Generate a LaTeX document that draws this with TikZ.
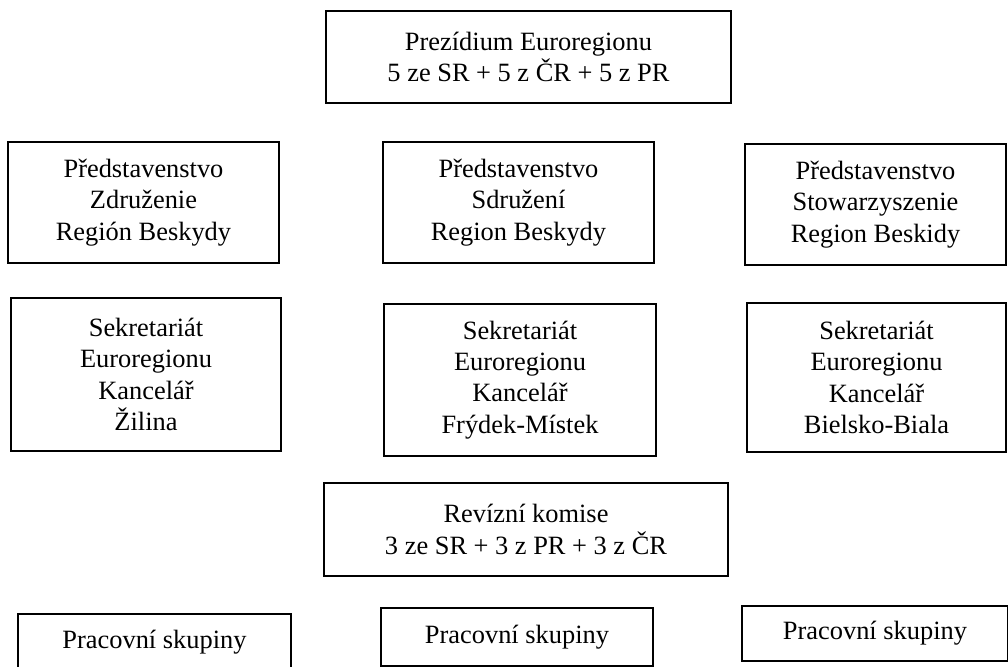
\documentclass[tikz,border=0pt]{standalone}
\usepackage{fontspec}
\setmainfont{Liberation Serif}

\begin{document}
\begin{tikzpicture}[x=0.5pt, y=-0.5pt,
        orgbox/.style={draw=black, line width=1pt, fill=white, align=center, inner sep=0pt,
                       font=\fontsize{13.2}{15.6}\selectfont}]
        \clip (0,0) rectangle (1008,666);
        \fill[white] (0,0) rectangle (1008,666);

        \node[orgbox, minimum width=202.5pt, minimum height=46pt] (prez) at (528.5,57) {Prezídium Euroregionu\\5 ze SR + 5 z ČR + 5 z PR};

        \node[orgbox, minimum width=135.5pt, minimum height=60.5pt] (predsk) at (143.5,202.5) {Představenstvo\\Združenie\\Región Beskydy};
        \node[orgbox, minimum width=135.5pt, minimum height=60.5pt] (predcz) at (518.5,202.5) {Představenstvo\\Sdružení\\Region Beskydy};
        \node[orgbox, minimum width=130.5pt, minimum height=60.5pt] (predpl) at (875.5,204.5) {Představenstvo\\Stowarzyszenie\\Region Beskidy};

        \node[orgbox, minimum width=135pt, minimum height=76.5pt] (sekzil) at (146,374.5) {Sekretariát\\Euroregionu\\Kancelář\\Žilina};
        \node[orgbox, minimum width=136pt, minimum height=76pt] (sekfm) at (520,380) {Sekretariát\\Euroregionu\\Kancelář\\Frýdek-Místek};
        \node[orgbox, minimum width=129.5pt, minimum height=74.5pt] (sekbb) at (876.5,377.5) {Sekretariát\\Euroregionu\\Kancelář\\Bielsko-Biala};

        \node[orgbox, minimum width=202pt, minimum height=46.5pt] (rev) at (526,529.5) {Revízní komise\\3 ze SR + 3 z PR + 3 z ČR};

        \node[orgbox, minimum width=136.5pt, minimum height=28pt] (skupsk) at (154.5,642) {Pracovní skupiny};
        \node[orgbox, minimum width=136pt, minimum height=29pt] (skupcz) at (517,637) {Pracovní skupiny};
        \node[orgbox, minimum width=133pt, minimum height=27.5pt] (skuppl) at (875,633.5) {Pracovní skupiny};
\end{tikzpicture}
\end{document}
